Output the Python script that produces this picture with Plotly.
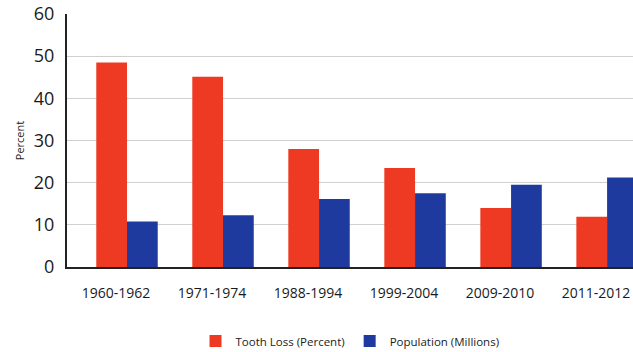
import plotly.graph_objects as go

categories = ["1960-1962", "1971-1974", "1988-1994", "1999-2004", "2009-2010", "2011-2012"]
tooth_loss = [48.5, 45.1, 28.0, 23.5, 14.0, 11.9]
population = [10.8, 12.3, 16.1, 17.5, 19.5, 21.2]
y_ticks = [0, 10, 20, 30, 40, 50, 60]

RED = "#EE3A22"
BLUE = "#1F3A9E"
FONT = "Open Sans"

X_RANGE = [-0.625, 5.27]
LABEL_SHIFT = 0.115  # tick labels sit slightly left of the bar-group centres

fig = go.Figure()
fig.add_trace(go.Bar(x=categories, y=tooth_loss, name="Tooth Loss (Percent)",
                     marker=dict(color=RED, line=dict(width=0))))
fig.add_trace(go.Bar(x=categories, y=population, name="Population (Millions)",
                     marker=dict(color=BLUE, line=dict(width=0))))
# invisible helper trace so the label axis (xaxis2) gets drawn
fig.add_trace(go.Scatter(x=list(range(len(categories))), y=tooth_loss, xaxis="x2", yaxis="y",
                         mode="markers", marker=dict(opacity=0, size=1),
                         showlegend=False, hoverinfo="skip"))

fig.update_layout(
    width=633, height=352,
    margin=dict(l=67, r=0, t=14, b=85, autoexpand=False),
    paper_bgcolor="white", plot_bgcolor="white",
    barmode="group", bargap=0.36, bargroupgap=0,
    font=dict(family=FONT, color="#1a1a1a"),
    showlegend=True,
    legend=dict(orientation="h", x=0.5, xanchor="center",
                yref="container", y=0.031, yanchor="middle",
                font=dict(size=11.5, family=FONT, color="#222"),
                itemwidth=30, traceorder="normal"),
    xaxis=dict(
        type="category", range=X_RANGE,
        showgrid=False, showline=True, linecolor="#222", linewidth=2,
        ticks="", showticklabels=False, zeroline=False, fixedrange=True,
    ),
    xaxis2=dict(
        type="linear", overlaying="x", anchor="y", side="bottom",
        range=[X_RANGE[0] + LABEL_SHIFT, X_RANGE[1] + LABEL_SHIFT],
        tickmode="array", tickvals=list(range(len(categories))), ticktext=categories,
        showgrid=False, showline=False, zeroline=False, ticks="",
        tickfont=dict(size=14, family=FONT, color="#1a1a1a"),
        ticklabelstandoff=16, fixedrange=True,
    ),
    yaxis=dict(
        range=[0, 60], tickvals=y_ticks,
        showgrid=True, gridcolor="#d0d0d0", gridwidth=1,
        showline=True, linecolor="#222", linewidth=2,
        ticks="", tickfont=dict(size=18, family=FONT, color="#1a1a1a"),
        ticklabelstandoff=7, zeroline=False,
        title=dict(text="Percent", font=dict(size=11, family=FONT, color="#222"), standoff=7),
    ),
)

fig.write_html("out.html")
